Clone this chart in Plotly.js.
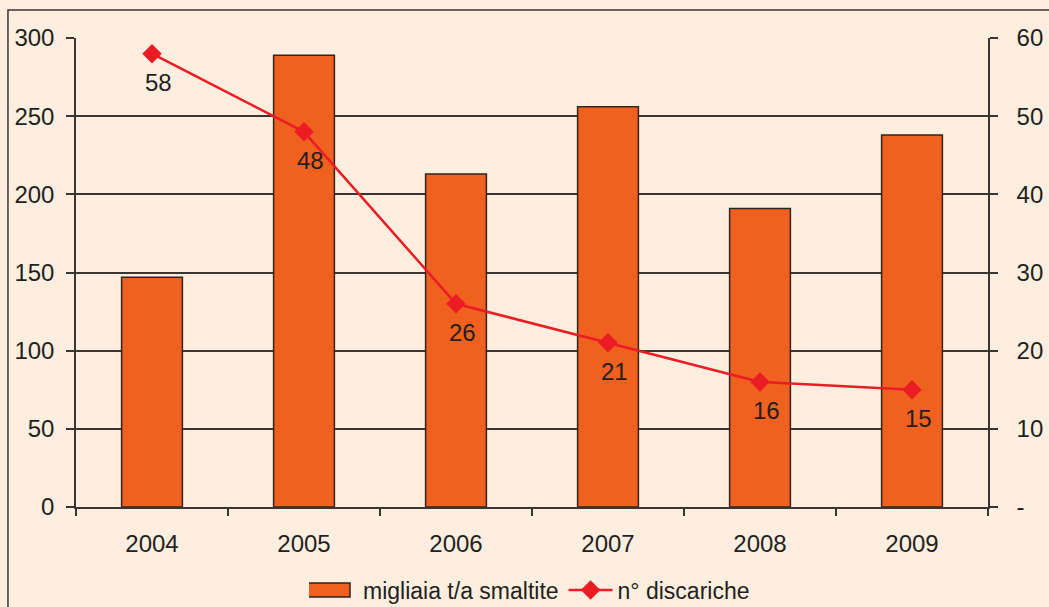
<!DOCTYPE html>
<html>
<head>
<meta charset="utf-8">
<script src="https://cdn.plot.ly/plotly-3.0.1.min.js"></script>
<style>
  html, body { margin: 0; padding: 0; background: #FDEEDF; }
  #chart { width: 1049px; height: 607px; }
</style>
</head>
<body>
<div id="chart"></div>
<script>
// Years on the category axis
const years = ["2004", "2005", "2006", "2007", "2008", "2009"];
// Thousand tonnes per year disposed (left axis)
const tonnes = [147, 289, 213, 256, 191, 238];
// Number of landfills (right axis)
const landfills = [58, 48, 26, 21, 16, 15];
const rightTickVals = [0, 10, 20, 30, 40, 50, 60];
const rightTickText = ["-", "10", "20", "30", "40", "50", "60"];

const textColor = "#231f20";
const lineColor = "#3b3531";
const fontSize = 24;

const barTrace = {
  x: years,
  y: tonnes,
  type: "bar",
  name: "migliaia t/a smaltite",
  width: 0.4,
  marker: { color: "#F0601F", line: { color: "#2e2420", width: 1.5 } },
  hoverinfo: "x+y",
};

const lineTrace = {
  x: years,
  y: landfills,
  yaxis: "y2",
  type: "scatter",
  mode: "lines+markers",
  name: "n° discariche",
  line: { color: "#EC1C24", width: 2.5 },
  marker: { symbol: "diamond", size: 15, color: "#EC1C24" },
};

// data labels under each marker (x given as category index)
const labels = landfills.map((v, i) => ({
  x: i,
  y: v,
  xref: "x",
  yref: "y2",
  text: String(v),
  showarrow: false,
  xshift: 6,
  yshift: -29,
  font: { size: fontSize, color: textColor },
}));

const layout = {
  width: 1049,
  height: 607,
  paper_bgcolor: "#FDEEDF",
  plot_bgcolor: "#FDEEDF",
  font: { family: "Liberation Sans, Arial, sans-serif", size: fontSize, color: textColor },
  margin: { l: 76, r: 61, t: 38, b: 100 },
  showlegend: true,
  bargap: 0.6,
  xaxis: {
    type: "category",
    range: [-0.5, 5.5],
    tickson: "boundaries",
    ticks: "outside",
    ticklen: 7,
    tickwidth: 1.5,
    tickcolor: lineColor,
    ticklabelstandoff: 14,
    tickangle: 0,
    showline: true,
    linecolor: lineColor,
    linewidth: 1.5,
    showgrid: false,
    zeroline: false,
    tickfont: { size: fontSize, color: textColor },
  },
  yaxis: {
    range: [0, 300],
    tickvals: [0, 50, 100, 150, 200, 250, 300],
    ticks: "outside",
    ticklen: 8,
    tickwidth: 1.5,
    tickcolor: lineColor,
    ticklabelstandoff: 7,
    showline: true,
    linecolor: lineColor,
    linewidth: 1.5,
    showgrid: true,
    gridcolor: lineColor,
    gridwidth: 1.5,
    zeroline: false,
    tickfont: { size: fontSize, color: textColor },
  },
  yaxis2: {
    overlaying: "y",
    side: "right",
    range: [0, 60],
    tickvals: rightTickVals,
    ticktext: rightTickText,
    ticks: "outside",
    ticklen: 8,
    tickwidth: 1.5,
    tickcolor: lineColor,
    ticklabelstandoff: 14,
    showline: true,
    linecolor: lineColor,
    linewidth: 1.5,
    showgrid: false,
    zeroline: false,
    tickfont: { size: fontSize, color: textColor },
  },
  legend: {
    orientation: "h",
    x: 0.5,
    xanchor: "center",
    yref: "container",
    y: 0.028,
    yanchor: "middle",
    bgcolor: "rgba(0,0,0,0)",
    itemwidth: 44,
    font: { size: 23, color: textColor },
  },
  annotations: labels,
  shapes: [
    {
      type: "rect",
      xref: "paper",
      yref: "paper",
      x0: -0.0746,
      x1: 1.2,
      y0: -0.4,
      y1: 1.0597,
      line: { color: lineColor, width: 1.5 },
      fillcolor: "rgba(0,0,0,0)",
      layer: "below",
    },
  ],
};

Plotly.newPlot("chart", [barTrace, lineTrace], layout, { displayModeBar: false }).then((gd) => {
  // widen the bar legend swatch to a flat rectangle like the original
  gd.querySelectorAll(".legend .legendpoints path.legendundefined").forEach((p) => {
    p.setAttribute("d", "M14,7H-30V-7H14Z");
  });
});
</script>
</body>
</html>
